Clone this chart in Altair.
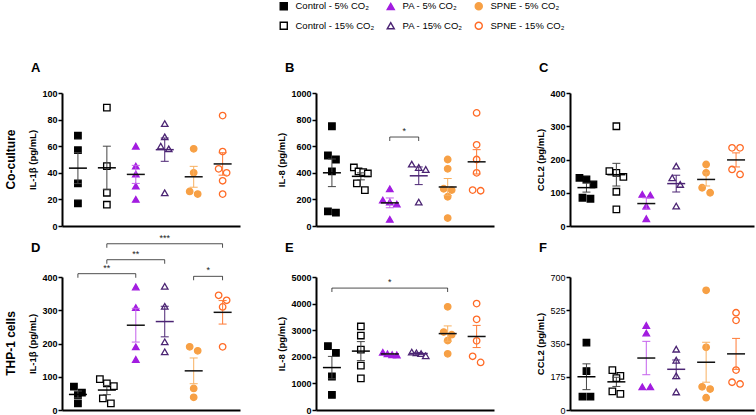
import altair as alt
import pandas as pd
import numpy as np

FONT = "Liberation Sans"

GROUPS = ["Control - 5% CO₂", "Control - 15% CO₂", "PA - 5% CO₂",
          "PA - 15% CO₂", "SPNE - 5% CO₂", "SPNE - 15% CO₂"]

STROKE = {GROUPS[0]: "#000000", GROUPS[1]: "#000000", GROUPS[2]: "#A21CE0",
          GROUPS[3]: "#4B2473", GROUPS[4]: "#F7A045", GROUPS[5]: "#FF6A25"}
FILL = {GROUPS[0]: "#000000", GROUPS[1]: "#FFFFFF", GROUPS[2]: "#A21CE0",
        GROUPS[3]: "#FFFFFF", GROUPS[4]: "#F7A045", GROUPS[5]: "#FFFFFF"}
SHAPE = {GROUPS[0]: "square", GROUPS[1]: "square", GROUPS[2]: "triangle-up",
         GROUPS[3]: "triangle-up", GROUPS[4]: "circle", GROUPS[5]: "circle"}
MEAN_COL = ["#000000", "#000000", "#111111", "#4B2473", "#111111", "#111111"]
ERR_COL = ["#444444", "#444444", "#C460EC", "#4B2473", "#F8B060", "#FF7A35"]

# ---- values ----
A_vals = [[68, 57, 32, 17], [89, 45, 25, 16], [60, 45, 39, 30, 20],
          [77, 67, 60, 58, 25], [58, 40, 26, 24], [83, 56, 43, 40, 34, 24]]
B_vals = [[750, 530, 500, 410, 110, 100], [440, 410, 405, 395, 320, 270],
          [280, 195, 180, 165, 50], [465, 440, 425, 180],
          [500, 430, 280, 270, 220, 60], [850, 610, 500, 400, 270, 265]]
C_vals = [[145, 140, 125, 85, 82], [300, 165, 160, 148, 103, 50],
          [95, 93, 60, 22], [180, 145, 125, 60], [185, 160, 115, 100],
          [235, 235, 170, 155]]
D_vals = [[70, 52, 45, 20], [93, 80, 72, 35, 20], [370, 308, 190, 152],
          [372, 312, 205, 175], [190, 178, 65, 38], [345, 330, 310, 190]]
E_vals = [[2400, 2150, 1260, 570], [3140, 2800, 2270, 1670, 1190],
          [2170, 2110, 2080, 2070], [2180, 2150, 2120, 2040],
          [3880, 2930, 2830, 2610, 2110], [4000, 3410, 2600, 2020, 1790]]
F_vals = [[355, 205, 70, 70], [210, 180, 168, 98, 85], [445, 405, 122, 122],
          [320, 262, 180, 95], [630, 330, 122, 110, 65], [512, 472, 210, 146, 137]]

# significance brackets: (from group, to group, level, label)
B_brackets = [(2, 3, 669, "*")]
D_brackets = [(0, 2, 410, "**"), (1, 3, 452, "**"), (1, 5, 500, "***"), (4, 5, 402, "*")]
E_brackets = [(0, 4, 4583, "*")]

Y_TITLES = ["IL-1β (pg/mL)", "IL-8 (pg/mL)", "CCL2 (pg/mL)",
            "IL-1β (pg/mL)", "IL-8 (pg/mL)", "CCL2 (pg/mL)"]

XDOM = [-0.55, 5.6]
H = 133

LEG = alt.Legend(orient="none", legendX=217, legendY=-92, columns=3, title=None,
                 symbolSize=50, symbolStrokeWidth=1.4, labelFont=FONT,
                 labelFontSize=9.5, labelColor="black", labelOffset=7,
                 columnPadding=9, rowPadding=6, padding=0)


def swarm(values, ppu_y, ppu_x):
    """Symmetric row-based spreading of overlapping points (pixel space)."""
    order = sorted(range(len(values)), key=lambda i: -values[i])
    rows, cur = [], []
    for i in order:
        if cur and values[cur[0]] * ppu_y - values[i] * ppu_y >= 7:
            rows.append(cur)
            cur = []
        cur.append(i)
    if cur:
        rows.append(cur)
    off = [0.0] * len(values)
    for r in rows:
        n = len(r)
        if n > 1:
            sp = min(8.0, 14.0 / (n - 1))
            for k, i in enumerate(r):
                off[i] = (k - (n - 1) / 2) * sp / ppu_x
    return off


def panel(letter, vals, ymax, step, title, width, brackets, row_label, lab_weight,
          letter_y):
    ppu_y = H / ymax
    ppu_x = width / (XDOM[1] - XDOM[0])
    rows = []
    stats = []
    for gi, g in enumerate(GROUPS):
        v = vals[gi]
        offs = swarm(v, ppu_y, ppu_x)
        for val, o in zip(v, offs):
            rows.append({"group": g, "gi": gi, "xj": gi + o, "value": val})
        arr = np.array(v, dtype=float)
        m = arr.mean()
        sem = arr.std(ddof=1) / np.sqrt(len(arr))
        stats.append({"gi": gi, "mean": m, "lo": m - sem, "hi": m + sem,
                      "mcol": MEAN_COL[gi], "ecol": ERR_COL[gi]})
    pts = pd.DataFrame(rows)
    st = pd.DataFrame(stats)

    xs = alt.Scale(domain=XDOM, nice=False, zero=False)
    ys = alt.Scale(domain=[0, ymax], nice=False, zero=True)
    xaxis = alt.Axis(labels=False, ticks=False, title=None, grid=False,
                     domainWidth=2, domainColor="black")
    yaxis = alt.Axis(values=list(range(0, ymax + 1, step)), title=title, format="d",
                     grid=False, domainWidth=2, domainColor="black",
                     tickSize=4, tickWidth=1.5, tickColor="black",
                     labelFont=FONT, labelFontSize=9, labelFontWeight=lab_weight,
                     labelColor="black", labelPadding=1,
                     titleFont=FONT, titleFontSize=9.5, titleFontWeight="bold",
                     titleColor="black", titlePadding=4)

    def X(f):
        return alt.X(f, scale=xs, axis=xaxis)

    def Y(f):
        return alt.Y(f, scale=ys, axis=yaxis)

    dom = GROUPS
    points = alt.Chart(pts).mark_point(opacity=1, strokeWidth=1.3, size=42).encode(
        x=X("xj:Q"),
        y=Y("value:Q"),
        color=alt.Color("group:N", scale=alt.Scale(domain=dom, range=[STROKE[g] for g in dom]), legend=LEG),
        fill=alt.Fill("group:N", scale=alt.Scale(domain=dom, range=[FILL[g] for g in dom]), legend=LEG),
        shape=alt.Shape("group:N", scale=alt.Scale(domain=dom, range=[SHAPE[g] for g in dom]), legend=LEG),
    )
    base = alt.Chart(st)
    err = base.mark_rule(strokeWidth=1).encode(
        x=X("gi:Q"), y=Y("lo:Q"), y2="hi:Q",
        stroke=alt.Stroke("ecol:N", scale=None))
    cap_lo = base.mark_rule(strokeWidth=1, xOffset=-4, x2Offset=4).encode(
        x=X("gi:Q"), x2="gi:Q", y=Y("lo:Q"),
        stroke=alt.Stroke("ecol:N", scale=None))
    cap_hi = base.mark_rule(strokeWidth=1, xOffset=-4, x2Offset=4).encode(
        x=X("gi:Q"), x2="gi:Q", y=Y("hi:Q"),
        stroke=alt.Stroke("ecol:N", scale=None))
    mean = base.mark_rule(strokeWidth=1.5, xOffset=-9, x2Offset=9).encode(
        x=X("gi:Q"), x2="gi:Q", y=Y("mean:Q"),
        stroke=alt.Stroke("mcol:N", scale=None))

    layers = [points, err, cap_lo, cap_hi, mean]

    if brackets:
        bdf = pd.DataFrame([{"x1": a, "x2": b, "lvl": y, "lab": t,
                             "mid": (a + b) / 2} for a, b, y, t in brackets])
        ends = pd.DataFrame([{"xe": x, "lvl": y} for a, b, y, t in brackets for x in (a, b)])
        bline = alt.Chart(bdf).mark_rule(strokeWidth=0.8, color="#222222").encode(
            x=X("x1:Q"), x2="x2:Q", y=Y("lvl:Q"))
        bend = alt.Chart(ends).mark_tick(orient="vertical", size=4, thickness=0.8,
                                         yOffset=2, color="#222222", opacity=1).encode(
            x=X("xe:Q"), y=Y("lvl:Q"))
        btxt = alt.Chart(bdf).mark_text(baseline="bottom", dy=-1, fontSize=9,
                                        font=FONT, color="#222222").encode(
            x=X("mid:Q"), y=Y("lvl:Q"), text="lab:N")
        layers += [bline, bend, btxt]

    let = alt.Chart(pd.DataFrame({"t": [letter]})).mark_text(
        align="left", baseline="alphabetic", fontSize=13, fontWeight="bold",
        font=FONT, color="black").encode(
        text="t:N", x=alt.value(-31), y=alt.value(letter_y))
    layers.append(let)

    if row_label:
        rl = alt.Chart(pd.DataFrame({"t": [row_label]})).mark_text(
            angle=270, align="center", baseline="middle", fontSize=12,
            fontWeight="bold", font=FONT, color="black").encode(
            text="t:N", x=alt.value(-51), y=alt.value(H / 2))
        layers.append(rl)

    return alt.layer(*layers).properties(width=width, height=H)


pA = panel("A", A_vals, 100, 20, Y_TITLES[0], 178, None, "Co-culture", "bold", -21)
pB = panel("B", B_vals, 1000, 200, Y_TITLES[1], 178, B_brackets, None, "bold", -21)
pC = panel("C", C_vals, 400, 100, Y_TITLES[2], 184, None, None, "bold", -21)
pD = panel("D", D_vals, 400, 100, Y_TITLES[3], 178, D_brackets, "THP-1 cells", "bold", -25)
pE = panel("E", E_vals, 5000, 1000, Y_TITLES[4], 178, E_brackets, None, "bold", -25)
pF = panel("F", F_vals, 700, 175, Y_TITLES[5], 184, None, None, "normal", -25)

chart = alt.concat(pA, pB, pC, pD, pE, pF, columns=3,
                   spacing={"row": 51, "column": 76}, bounds="flush").properties(
    padding={"left": 4, "top": 1, "right": 0, "bottom": 0}
).configure_view(stroke="transparent")

chart.save("out.html", embed_options={"renderer": "svg", "actions": False})
